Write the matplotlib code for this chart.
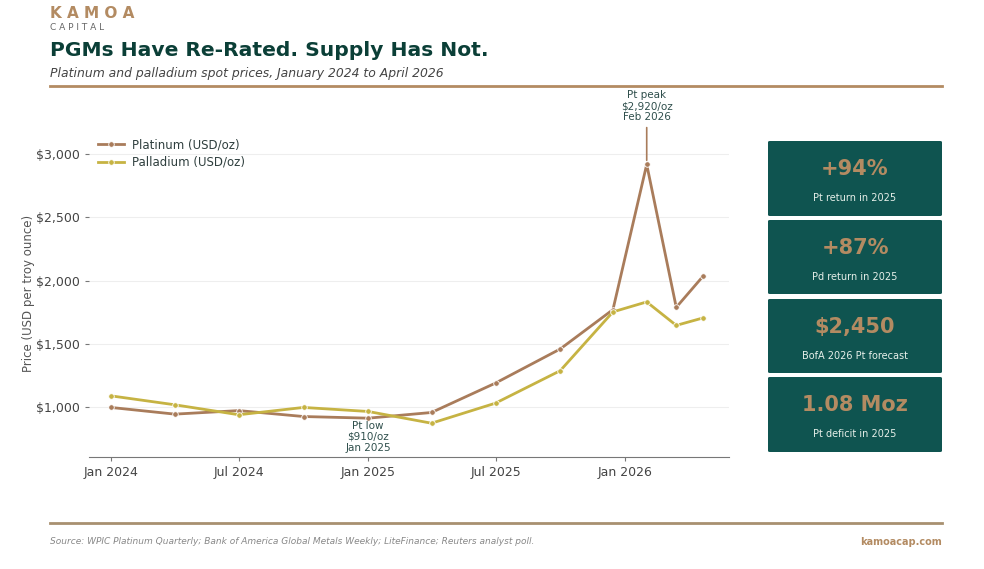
import matplotlib
matplotlib.use("Agg")
import matplotlib.pyplot as plt
import matplotlib.dates as mdates
from matplotlib.patches import FancyBboxPatch
import numpy as np
import pandas as pd

# ---- data ----
dates = ["2024-01-01", "2024-04-01", "2024-07-01", "2024-10-01", "2025-01-01",
         "2025-04-01", "2025-07-01", "2025-10-01", "2025-12-15", "2026-02-01",
         "2026-03-15", "2026-04-22"]
platinum = [995, 942, 970, 923, 910, 955, 1188, 1458, 1770, 2920, 1788, 2034]
palladium = [1087, 1016, 937, 995, 963, 870, 1029, 1286, 1752, 1831, 1645, 1704]
series_labels = ["Platinum (USD/oz)", "Palladium (USD/oz)"]
tick_dates = ["2024-01-01", "2024-07-01", "2025-01-01", "2025-07-01", "2026-01-01"]
tick_labels = ["Jan 2024", "Jul 2024", "Jan 2025", "Jul 2025", "Jan 2026"]
y_ticks = [1000, 1500, 2000, 2500, 3000]
kpi_values = ["+94%", "+87%", "$2,450", "1.08 Moz"]
kpi_labels = ["Pt return in 2025", "Pd return in 2025", "BofA 2026 Pt forecast", "Pt deficit in 2025"]

x = pd.to_datetime(dates)
xt = pd.to_datetime(tick_dates)

PT = "#a97c5b"
PD = "#c6b343"
TEAL = "#0f5450"
TAN = "#b38b62"
DARK = "#0b3f37"

W, H = 984, 569
fig = plt.figure(figsize=(W / 100, H / 100), dpi=100)
fig.patch.set_facecolor("white")

def fx(px):
    return px / W

def fy(py):
    return 1 - py / H

# header
fig.text(fx(50), fy(14), "K A M O A", fontsize=11, fontweight="bold", color=TAN, va="center", ha="left")
fig.text(fx(50), fy(27.5), "C A P I T A L", fontsize=6.5, color="#666666", va="center", ha="left")
fig.text(fx(50), fy(51), "PGMs Have Re-Rated. Supply Has Not.", fontsize=14.6, fontweight="bold",
         color=DARK, va="center", ha="left")
fig.text(fx(50), fy(73), "Platinum and palladium spot prices, January 2024 to April 2026", fontsize=8.9,
         style="italic", color="#444444", va="center", ha="left")
fig.add_artist(plt.Line2D([fx(50), fx(942)], [fy(86), fy(86)], color=TAN, lw=2))

# footer
fig.add_artist(plt.Line2D([fx(50), fx(942)], [fy(523), fy(523)], color="#a89070", lw=2))
fig.text(fx(50), fy(542), "Source: WPIC Platinum Quarterly; Bank of America Global Metals Weekly; LiteFinance; Reuters analyst poll.",
         fontsize=6.5, style="italic", color="#888888", va="center", ha="left", family="Liberation Sans Narrow")
fig.text(fx(942), fy(542), "kamoacap.com", fontsize=7, fontweight="bold", color=TAN, va="center", ha="right")

# main axes
left, right, bottom, top = 89, 729, 457.3, 129.1
ax = fig.add_axes([fx(left), fy(bottom), fx(right - left), (bottom - top) / H])
ax.plot(x, platinum, color=PT, lw=2.0, marker="o", ms=4, mec="white", mew=0.6, label=series_labels[0], zorder=3)
ax.plot(x, palladium, color=PD, lw=2.0, marker="o", ms=4, mec="white", mew=0.6, label=series_labels[1], zorder=3)

ax.set_ylim(600, 3200)
ax.set_xlim(pd.Timestamp("2023-12-01"), pd.Timestamp("2026-05-29"))
ax.set_yticks(y_ticks)
ax.set_yticklabels([f"${v:,.0f}" for v in y_ticks])
ax.set_xticks(xt)
ax.set_xticklabels(tick_labels)
ax.tick_params(axis="both", labelsize=9, colors="#444444", length=3, width=0.8)
ax.tick_params(axis="both", color="#777777")
ax.grid(axis="y", color="#eeeeee", lw=0.8)
ax.set_axisbelow(True)
for s in ["top", "right", "left"]:
    ax.spines[s].set_visible(False)
ax.spines["bottom"].set_color("#777777")
ax.set_ylabel("Price (USD per troy ounce)", fontsize=8.5, color="#555555", labelpad=1)

leg = ax.legend(loc="upper left", bbox_to_anchor=(0.0, 1.0), frameon=False, fontsize=8.5,
                handlelength=2.2, labelspacing=0.35, borderaxespad=0.4, handletextpad=0.6)
for t in leg.get_texts():
    t.set_color("#2f3f3e")

# annotations
ax.annotate("Pt peak\n$2,920/oz\nFeb 2026", xy=(x[9], platinum[9]), xytext=(x[9], 3256),
            ha="center", va="bottom", fontsize=7.5, color="#2f4f4c", annotation_clip=False,
            arrowprops=dict(arrowstyle="-", color=PT, lw=1.2, shrinkA=2, shrinkB=3), linespacing=1.1)
ax.annotate("Pt low\n$910/oz\nJan 2025", xy=(x[4], platinum[4]), xytext=(x[4], 887),
            ha="center", va="top", fontsize=7.5, color="#2f4f4c", linespacing=1.1)

# KPI boxes
boxes = [(141, 216), (220, 294), (299, 373), (377, 452)]
bx0, bx1 = 768, 942
for (t0, t1), val, lab in zip(boxes, kpi_values, kpi_labels):
    p = FancyBboxPatch((fx(bx0), fy(t1)), fx(bx1 - bx0), (t1 - t0) / H,
                       boxstyle="round,pad=0,rounding_size=0.002", transform=fig.transFigure,
                       facecolor=TEAL, edgecolor="none")
    fig.add_artist(p)
    cx = fx((bx0 + bx1) / 2)
    fig.text(cx, fy(t0 + 28), val, fontsize=15, fontweight="bold", color=TAN, ha="center", va="center")
    fig.text(cx, fy(t0 + 57), lab, fontsize=7, color="#e6efe9", ha="center", va="center")

fig.savefig("out.png", dpi=100, facecolor="white")
